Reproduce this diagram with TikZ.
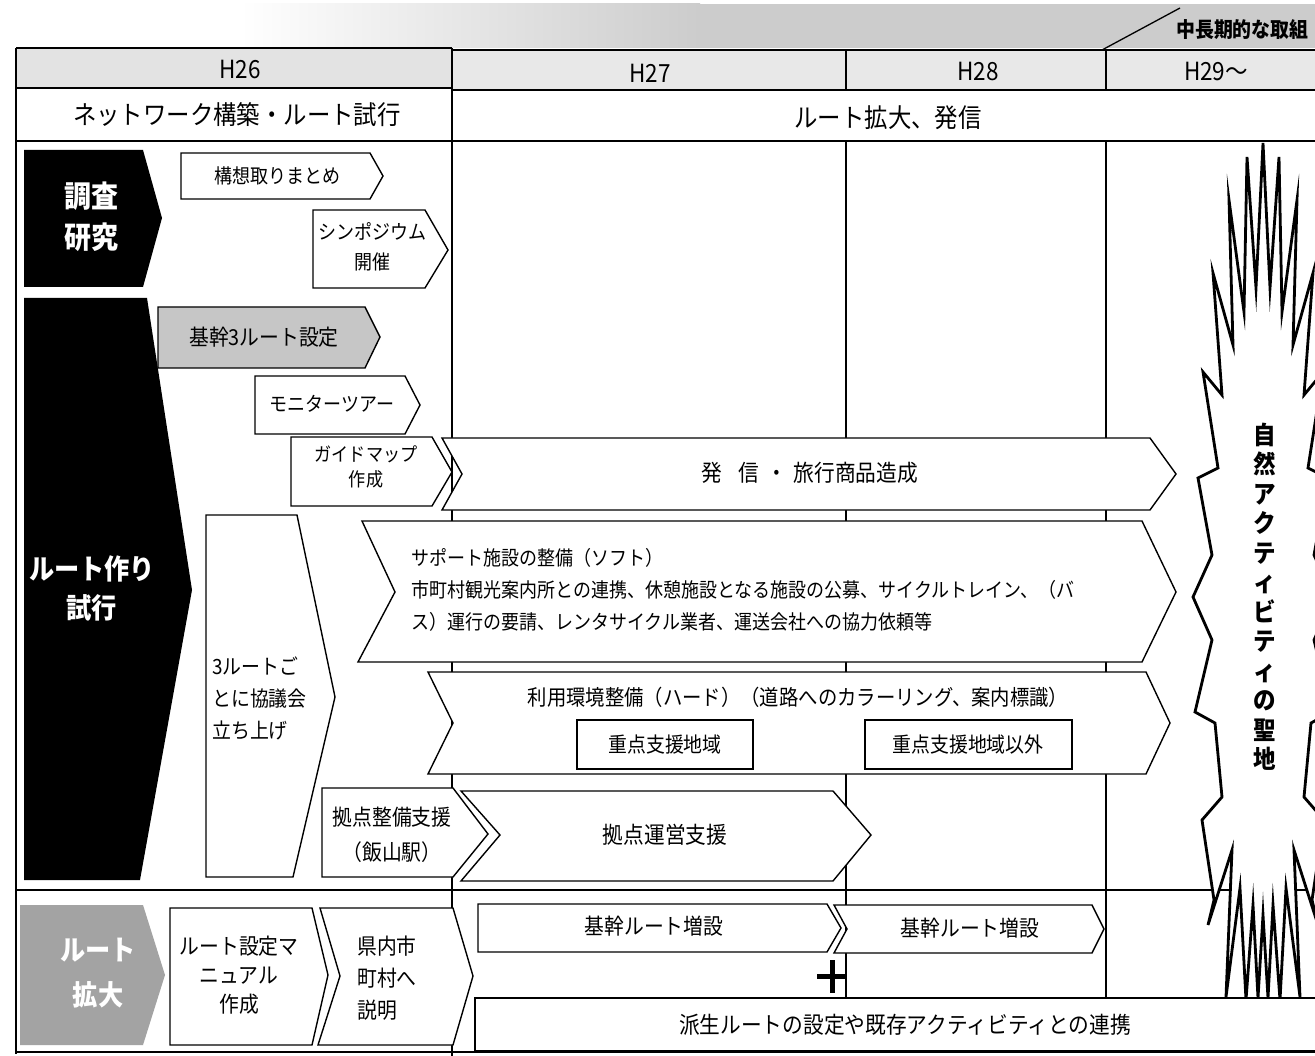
\documentclass[tikz,border=0pt]{standalone}
\usepackage{fontspec}
\setmainfont{Noto Sans CJK JP}[FakeStretch=0.9]
\usetikzlibrary{shadings}
\begin{document}
\begin{tikzpicture}[x=1pt,y=-1pt,
  box/.style={draw=black,line width=1.4pt,fill=white,line join=miter},
  gl/.style={draw=black,line width=1.3pt},
  glt/.style={draw=black,line width=2.6pt},
  t/.style={inner sep=0pt,align=center,font=\fontsize{22}{28}\selectfont},
  tm/.style={inner sep=0pt,align=center,font=\fontsize{20}{30}\selectfont},
  ts/.style={inner sep=0pt,align=left,font=\fontsize{20}{32}\selectfont},
  hd/.style={inner sep=0pt,font=\fontsize{25}{28}\selectfont},
  ttl/.style={inner sep=0pt,font=\fontsize{26}{30}\selectfont},
  cat/.style={inner sep=0pt,align=center,text=white,font=\bfseries\fontsize{30}{41}\selectfont},
]
\useasboundingbox (0,0) rectangle (1315,1056);
\fill[white] (0,0) rectangle (1315,1056);

% top band
\shade[left color=white,right color=gray!40] (240,4) rectangle (700,48);
\fill[gray!40] (699,4) rectangle (1315,48);
\draw[gl] (1102,50) -- (1180,8);

% header fills
\fill[gray!22] (16,48) rectangle (452,88);
\fill[gray!18] (452,50) rectangle (1315,90);

% grid lines
\draw[glt] (16,48) -- (452,48);
\draw[glt] (16,48) -- (16,1054);
\draw[glt] (452,48) -- (452,1056);
\draw[gl] (452,50) -- (1315,50);
\draw[glt] (16,88) -- (452,88);
\draw[gl] (452,90) -- (1315,90);
\draw[gl] (846,50) -- (846,90);
\draw[gl] (1106,50) -- (1106,90);
\draw[glt] (16,141) -- (1315,141);
\draw[gl] (846,141) -- (846,998);
\draw[gl] (1106,141) -- (1106,998);
\draw[glt] (16,890) -- (1315,890);
\draw[glt] (16,1052) -- (1315,1052);

% starburst
\draw[draw=black,line width=2.8pt,fill=white,line join=miter,miter limit=20]
 (1263,143) -- (1256,288) -- (1247,157) -- (1244,312) -- (1229,200) -- (1233,345)
 -- (1213,273) -- (1222,395) -- (1203,372) -- (1218,468) -- (1198,478) -- (1212,555)
 -- (1193,597) -- (1212,640) -- (1195,712) -- (1215,723) -- (1222,797) -- (1202,820)
 -- (1214,900) -- (1208,925) -- (1232,850) -- (1226,997) -- (1240,888) -- (1246,1000)
 -- (1253,905) -- (1258,998) -- (1263,915) -- (1268,998) -- (1273,905) -- (1280,1000)
 -- (1286,888) -- (1300,997) -- (1294,850) -- (1318,925) -- (1312,900) -- (1324,820)
 -- (1304,797) -- (1311,723) -- (1331,712) -- (1314,640) -- (1333,597) -- (1314,555)
 -- (1328,478) -- (1308,468) -- (1323,372) -- (1304,395) -- (1313,273) -- (1293,345)
 -- (1297,200) -- (1282,312) -- (1279,157) -- (1270,288) -- cycle;

% category chevrons
\fill[black] (24,150) -- (143,150) -- (162,218) -- (143,287) -- (24,287) -- cycle;
\fill[black] (24,298) -- (147,298) -- (192,590) -- (140,880) -- (24,880) -- cycle;
\fill[gray!72] (20,905) -- (143,905) -- (165,975) -- (143,1045) -- (20,1045) -- cycle;

% item boxes
\draw[box] (181,153) -- (370,153) -- (383,176) -- (370,199) -- (181,199) -- cycle;
\draw[box] (313,210) -- (425,210) -- (448,250) -- (425,288) -- (313,288) -- cycle;
\draw[box,fill=gray!45] (158,307) -- (365,307) -- (380,337) -- (365,368) -- (158,368) -- cycle;
\draw[box] (255,376) -- (405,376) -- (420,405) -- (405,434) -- (255,434) -- cycle;
\draw[box] (291,437) -- (432,437) -- (452,472) -- (432,506) -- (291,506) -- cycle;
\draw[box] (442,438) -- (1150,438) -- (1176,474) -- (1150,510) -- (442,510) -- (462,474) -- cycle;
\draw[box] (206,515) -- (297,515) -- (335,697) -- (293,877) -- (206,877) -- cycle;
\draw[box] (362,521) -- (1142,521) -- (1176,592) -- (1142,662) -- (358,662) -- (395,592) -- cycle;
\draw[box] (428,672) -- (1146,672) -- (1170,723) -- (1146,774) -- (428,774) -- (453,723) -- cycle;
\draw[box] (577,720) rectangle (753,769);
\draw[box] (865,720) rectangle (1072,769);
\draw[box] (322,788) -- (453,788) -- (488,834) -- (453,877) -- (322,877) -- cycle;
\draw[box] (461,791) -- (833,791) -- (871,835) -- (833,881) -- (461,881) -- (500,835) -- cycle;
\draw[box] (170,908) -- (312,908) -- (328,975) -- (312,1045) -- (170,1045) -- cycle;
\draw[box] (320,908) -- (453,908) -- (473,976) -- (453,1045) -- (318,1045) -- (340,976) -- cycle;
\draw[box] (478,904) -- (827,904) -- (841,928) -- (827,952) -- (478,952) -- cycle;
\draw[box] (834,905) -- (1092,905) -- (1104,929) -- (1092,953) -- (834,953) -- (847,929) -- cycle;
\draw[box] (475,998) rectangle (1340,1051);
\draw[line width=5pt] (832,960) -- (832,993);
\draw[line width=5pt] (817,976) -- (847,976);

% texts
\node[t,anchor=west,font=\bfseries\fontsize{21}{24}\selectfont] (ltop) at (1176,30) {中長期的な取組};
\node[hd] (h26) at (240,70) {H26};
\node[hd] (h27) at (650,73) {H27};
\node[hd] (h28) at (978,72) {H28};
\node[hd] (h29) at (1216,72) {H29～};
\node[ttl] (s1) at (237,115) {ネットワーク構築・ルート試行};
\node[ttl] (s2) at (888,118) {ルート拡大、発信};

\node[cat] (c1) at (91,217) {調査\\研究};
\node[cat,font=\bfseries\fontsize{28}{39}\selectfont] (c2) at (92,588) {ルート作り\\試行};
\node[cat,font=\bfseries\fontsize{28}{45}\selectfont] (c3) at (98,973) {ルート\\拡大};

\node[tm] (n1) at (277,176) {構想取りまとめ};
\node[tm] (n2) at (372,247) {シンポジウム\\開催};
\node[t] (n3) at (264,337) {基幹3ルート設定};
\node[tm] (n4) at (332,404) {モニターツアー};
\node[tm,font=\fontsize{19}{25}\selectfont] (n5) at (366,467) {ガイドマップ\\作成};
\node[t,font=\fontsize{23}{28}\selectfont] (n6) at (810,473) {発\hspace{0.7em}信\hspace{0.3em}・\hspace{0.3em}旅行商品造成};
\node[ts,anchor=west,font=\fontsize{21}{32}\selectfont] (n7) at (212,698) {3ルートご\\とに協議会\\立ち上げ};
\node[ts,anchor=west] (n8) at (411,590) {サポート施設の整備（ソフト）\\市町村観光案内所との連携、休憩施設となる施設の公募、サイクルトレイン、（バ\\ス）運行の要請、レンタサイクル業者、運送会社への協力依頼等};
\node[t,font=\fontsize{21.5}{26}\selectfont] (n9) at (798,697) {利用環境整備（ハード）（道路へのカラーリング、案内標識）};
\node[t,font=\fontsize{21}{26}\selectfont] (n10) at (665,745) {重点支援地域};
\node[t,font=\fontsize{21}{26}\selectfont] (n11) at (968,745) {重点支援地域以外};
\node[t,font=\fontsize{22}{35}\selectfont] (n12) at (392,835) {拠点整備支援\\（飯山駅）};
\node[t,font=\fontsize{23}{28}\selectfont] (n13) at (665,835) {拠点運営支援};
\node[t,font=\fontsize{22}{29}\selectfont] (n14) at (239,975) {ルート設定マ\\ニュアル\\作成};
\node[ts,anchor=west,font=\fontsize{22}{32}\selectfont] (n15) at (357,978) {県内市\\町村へ\\説明};
\node[t] (n16) at (654,926) {基幹ルート増設};
\node[t] (n17) at (970,928) {基幹ルート増設};
\node[t,font=\fontsize{23}{28}\selectfont] (n18) at (905,1025) {派生ルートの設定や既存アクティビティとの連携};
\node[t,font=\bfseries\fontsize{25}{29.5}\selectfont] (v1) at (1265,597) {自\\然\\ア\\ク\\テ\\ィ\\ビ\\テ\\ィ\\の\\聖\\地};
\end{tikzpicture}
\end{document}
